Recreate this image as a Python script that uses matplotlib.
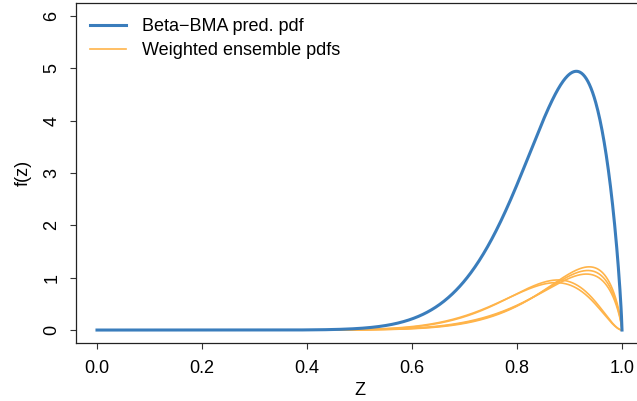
import numpy as np
import matplotlib
matplotlib.use("Agg")
import matplotlib.pyplot as plt
from matplotlib.lines import Line2D
from math import lgamma

plt.rcParams['font.family'] = ['Liberation Sans', 'DejaVu Sans']

# Ensemble member beta components: shape parameters and BMA weights
member_alpha = [13.0, 12.5, 12.0, 14.0, 13.5]
member_beta = [1.8, 1.8, 1.8, 2.8, 2.8]
member_weight = [0.21, 0.205, 0.20, 0.20, 0.195]

x_ticks = [0.0, 0.2, 0.4, 0.6, 0.8, 1.0]
y_ticks = [0, 1, 2, 3, 4, 5, 6]

BLUE = '#3A7DBC'
ORANGE = '#FFB44A'
FS = 13


def beta_pdf(z, a, b):
    logc = lgamma(a + b) - lgamma(a) - lgamma(b)
    with np.errstate(divide='ignore'):
        out = np.exp(logc + (a - 1) * np.log(z) + (b - 1) * np.log1p(-z))
    return np.nan_to_num(out)


z = np.linspace(0.0, 1.0, 1001)
components = [w * beta_pdf(z, a, b)
              for a, b, w in zip(member_alpha, member_beta, member_weight)]
bma = np.sum(components, axis=0)

fig = plt.figure(figsize=(6.37, 4.01), dpi=100)
ax = fig.add_axes([76 / 637, 58.4 / 401, 567 / 637, 339.2 / 401])

for comp in components:
    ax.plot(z, comp, color=ORANGE, lw=1.2)
ax.plot(z, bma, color=BLUE, lw=2.2)

ax.set_xlim(-0.04, 1.04)
ax.set_ylim(-0.24, 6.24)
ax.set_xticks(x_ticks)
ax.set_xticklabels([f'{t:.1f}' for t in x_ticks])
ax.set_yticks(y_ticks)
ax.set_yticklabels([str(t) for t in y_ticks], rotation=90, va='center')
ax.tick_params(axis='both', direction='out', length=4.3, width=0.8,
               labelsize=FS, color='#333333')
ax.tick_params(axis='x', pad=8.5)
ax.tick_params(axis='y', pad=7)
ax.spines['right'].set_visible(False)
for s in ax.spines.values():
    s.set_linewidth(0.9)
    s.set_color('#222222')

ax.set_xlabel('Z', fontsize=FS, labelpad=3)
ax.set_ylabel('f(z)', fontsize=FS, labelpad=8)

handles = [Line2D([], [], color=BLUE, lw=2.2),
           Line2D([], [], color=ORANGE, lw=1.2)]
ax.legend(handles, ['Beta\u2212BMA pred. pdf', 'Weighted ensemble pdfs'],
          loc='upper left', bbox_to_anchor=(0.0, 1.0), frameon=False,
          fontsize=FS, handlelength=1.95, handletextpad=0.9,
          borderaxespad=0.5, borderpad=0.3, labelspacing=0.4)

fig.savefig('out.png', dpi=100)
